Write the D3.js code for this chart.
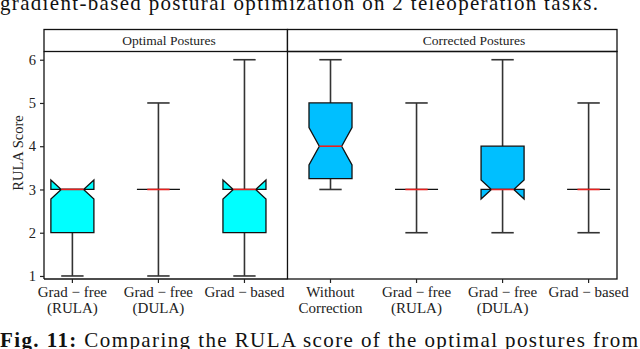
<!DOCTYPE html>
<html>
<head>
<meta charset="utf-8">
<script src="https://cdn.jsdelivr.net/npm/d3@7"></script>
<style>
  body { margin: 0; background: #fff; }
  svg { display: block; }
  text { font-family: "Liberation Serif", "DejaVu Serif", serif; fill: #222; }
</style>
</head>
<body>
<div id="chart"></div>
<script>
// data
var panels = ['Optimal Postures', 'Corrected Postures'];
var catLabels = [
    ['Grad \u2212 free', '(RULA)'],
    ['Grad \u2212 free', '(DULA)'],
    ['Grad \u2212 based'],
    ['Without', 'Correction'],
    ['Grad \u2212 free', '(RULA)'],
    ['Grad \u2212 free', '(DULA)'],
    ['Grad \u2212 based']
];
var panelOf = [0, 0, 0, 1, 1, 1, 1];
var whiskerLow = [1, 1, 1, 3, 2, 2, 2];
var q1 = [2, 3, 2, 3.25, 3, 3, 3];
var median = [3, 3, 3, 4, 3, 3, 3];
var q3 = [3, 3, 3, 5, 3, 4, 3];
var whiskerHigh = [3, 5, 6, 6, 5, 6, 5];
var notchLow = [2.78, 3, 2.78, 3.57, 3, 2.78, 3];
var notchHigh = [3.22, 3, 3.22, 4.43, 3, 3.22, 3];
var yTicks = [1, 2, 3, 4, 5, 6];
var panelFill = ['#00ffff', '#00bfff'];

var width = 640, height = 349;
var plotLeft = 44, plotRight = 617, plotTop = 51.5, plotBottom = 279, stripTop = 29.5;

var svg = d3.select('#chart').append('svg')
    .attr('width', width)
    .attr('height', height);

var x = d3.scalePoint()
    .domain(d3.range(catLabels.length))
    .range([plotLeft, plotRight])
    .padding(0.33);

var y = d3.scaleLinear()
    .domain([0.93, 6.19])
    .range([plotBottom, plotTop]);

var step = x.step(),
    boxHalf = step * 0.25,
    notchHalf = step * 0.13,
    capHalf = step * 0.13;

// panel divider sits midway between the two groups
var divider = (x(2) + x(3)) / 2;

// page text above and below (cropped in the source)
svg.append('text')
    .attr('x', 0)
    .attr('y', 10)
    .attr('textLength', 598)
    .style('font-size', '21px')
    .style('fill', '#111')
    .text('gradient-based postural optimization on 2 teleoperation tasks.');

var cap = svg.append('text')
    .attr('x', 0)
    .attr('y', 347)
    .attr('textLength', 638)
    .style('font-size', '21px')
    .style('fill', '#111');
cap.append('tspan').style('font-weight', 'bold').text('Fig. 11:');
cap.append('tspan').text(' Comparing the RULA score of the optimal postures from');

// strips
var stripEdges = [[plotLeft, divider], [divider, plotRight]];
var stripLabelX = [169, 474];
stripEdges.forEach(function(e, i) {
    svg.append('rect')
        .attr('x', e[0])
        .attr('y', stripTop)
        .attr('width', e[1] - e[0])
        .attr('height', plotTop - stripTop)
        .attr('fill', '#fff')
        .attr('stroke', '#111')
        .attr('stroke-width', 1.3);
    svg.append('text')
        .attr('x', stripLabelX[i])
        .attr('y', (stripTop + plotTop) / 2 + 4.5)
        .attr('text-anchor', 'middle')
        .style('font-size', '13.5px')
        .text(panels[i]);
});

// panel frames
svg.append('rect')
    .attr('x', divider)
    .attr('y', plotTop)
    .attr('width', plotRight - divider)
    .attr('height', plotBottom - plotTop)
    .attr('fill', 'none')
    .attr('stroke', '#111')
    .attr('stroke-width', 1.3);

svg.append('line')
    .attr('x1', plotLeft).attr('x2', plotLeft)
    .attr('y1', plotTop).attr('y2', plotBottom)
    .attr('stroke', '#111').attr('stroke-width', 1.3);
svg.append('line')
    .attr('x1', plotLeft).attr('x2', divider)
    .attr('y1', plotBottom).attr('y2', plotBottom)
    .attr('stroke', '#111').attr('stroke-width', 1.3);

// y axis
var yAxis = svg.append('g')
    .attr('transform', 'translate(' + plotLeft + ',0)')
    .call(d3.axisLeft(y).tickValues(yTicks).tickSize(4).tickPadding(4).tickFormat(d3.format('d')));
yAxis.select('.domain').remove();
yAxis.selectAll('line').attr('stroke', '#222').attr('stroke-width', 1.2);
yAxis.selectAll('text')
    .style('font-family', '"Liberation Serif", serif')
    .style('font-size', '14.5px')
    .attr('fill', '#222');

svg.append('text')
    .attr('transform', 'translate(23,153) rotate(-90)')
    .attr('text-anchor', 'middle')
    .style('font-size', '14.5px')
    .text('RULA Score');

// x ticks and labels
var xTicks = svg.append('g');
d3.range(catLabels.length).forEach(function(i) {
    xTicks.append('line')
        .attr('x1', x(i)).attr('x2', x(i))
        .attr('y1', plotBottom).attr('y2', plotBottom + 4)
        .attr('stroke', '#222').attr('stroke-width', 1.2);
    var t = xTicks.append('text')
        .attr('text-anchor', 'middle')
        .style('font-size', '15px');
    catLabels[i].forEach(function(line, j) {
        t.append('tspan')
            .attr('x', x(i))
            .attr('y', plotBottom + 18 + j * 15.5)
            .text(line);
    });
});

// notched box path in the same order matplotlib walks it
function boxPath(i) {
    var cx = x(i),
        l = cx - boxHalf, r = cx + boxHalf,
        nl = cx - notchHalf, nr = cx + notchHalf;
    var pts = [
        [l, y(q1[i])], [l, y(notchLow[i])], [nl, y(median[i])], [l, y(notchHigh[i])], [l, y(q3[i])],
        [r, y(q3[i])], [r, y(notchHigh[i])], [nr, y(median[i])], [r, y(notchLow[i])], [r, y(q1[i])]
    ];
    return d3.line()(pts) + 'Z';
}

var boxes = svg.append('g')
    .selectAll('g')
    .data(d3.range(catLabels.length))
    .join('g');

// whiskers
boxes.append('line')
    .attr('x1', function(i) { return x(i); })
    .attr('x2', function(i) { return x(i); })
    .attr('y1', function(i) { return y(whiskerLow[i]); })
    .attr('y2', function(i) { return y(q1[i]); })
    .attr('stroke', '#333').attr('stroke-width', 1.6);
boxes.append('line')
    .attr('x1', function(i) { return x(i); })
    .attr('x2', function(i) { return x(i); })
    .attr('y1', function(i) { return y(q3[i]); })
    .attr('y2', function(i) { return y(whiskerHigh[i]); })
    .attr('stroke', '#333').attr('stroke-width', 1.6);
[whiskerLow, whiskerHigh].forEach(function(arr) {
    boxes.append('line')
        .attr('x1', function(i) { return x(i) - capHalf; })
        .attr('x2', function(i) { return x(i) + capHalf; })
        .attr('y1', function(i) { return y(arr[i]); })
        .attr('y2', function(i) { return y(arr[i]); })
        .attr('stroke', '#333').attr('stroke-width', 1.6);
});

boxes.append('path')
    .attr('d', boxPath)
    .attr('fill', function(i) { return panelFill[panelOf[i]]; })
    .attr('stroke', '#111')
    .attr('stroke-width', 1.3)
    .attr('stroke-linejoin', 'miter');

boxes.append('line')
    .attr('x1', function(i) { return x(i) - notchHalf; })
    .attr('x2', function(i) { return x(i) + notchHalf; })
    .attr('y1', function(i) { return y(median[i]); })
    .attr('y2', function(i) { return y(median[i]); })
    .attr('stroke', '#e8201e')
    .attr('stroke-width', 1.6);
</script>
</body>
</html>
